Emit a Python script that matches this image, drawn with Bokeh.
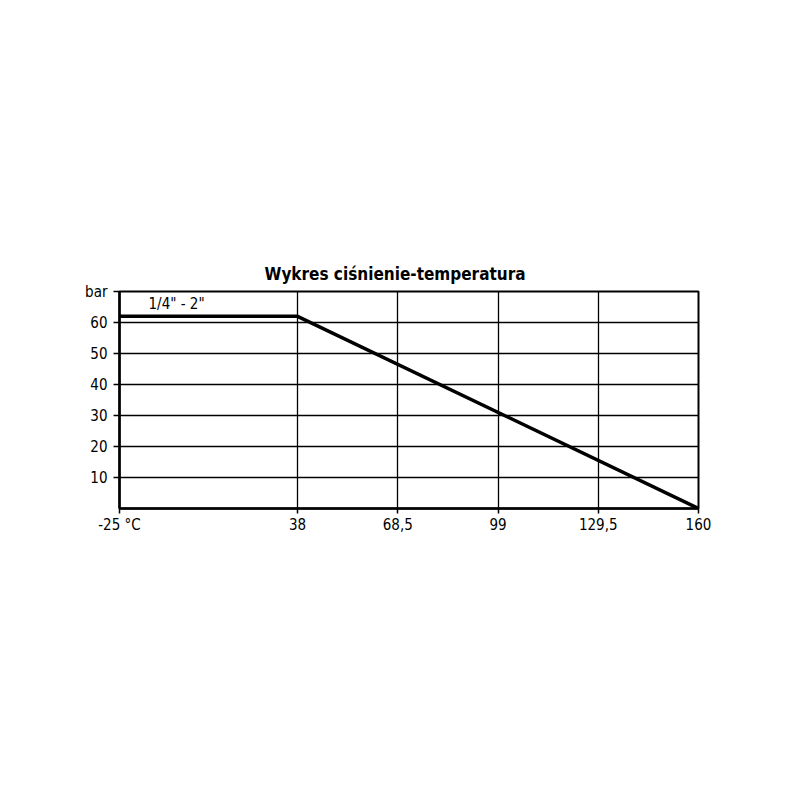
from bokeh.plotting import figure
from bokeh.models import FixedTicker, Label, Title
from bokeh.embed import file_html
from bokeh.resources import INLINE

# ---- data ----
temps = [-25, 38, 160]          # °C
pressures = [62, 62, 0]         # bar
x_tick_values = [-25, 38, 68.5, 99, 129.5, 160]
x_tick_labels = ["-25 °C", "38", "68,5", "99", "129,5", "160"]
y_tick_values = [10, 20, 30, 40, 50, 60, 70]
y_tick_labels = ["10", "20", "30", "40", "50", "60", "bar"]
y_grid_values = [10, 20, 30, 40, 50, 60]
series_label = '1/4" - 2"'
title_text = "Wykres ciśnienie-temperatura"
y_max = 70

# The original axis compresses the part below the knee temperature (38 °C)
KNEE = 38
COMPRESS = 0.86


def xpos(t):
    if t >= KNEE:
        return t
    return round(KNEE - (KNEE - t) * COMPRESS, 4)


FONT = "DejaVu Sans Condensed"

xs = [xpos(t) for t in temps]
xt = [xpos(t) for t in x_tick_values]

p = figure(
    frame_width=579, frame_height=217,
    min_border_left=119, min_border_top=291,
    min_border_right=86, min_border_bottom=276,
    x_range=(xt[0], xt[-1]), y_range=(0, y_max),
    output_backend="svg", toolbar_location=None,
    background_fill_color="white", border_fill_color="white",
)

t = Title(text=title_text, align="left", offset=145,
          text_font=FONT, text_font_size="17px", text_font_style="bold",
          text_color="black", standoff=15)
p.add_layout(t, "above")

p.outline_line_color = "black"
p.outline_line_width = 2

# axes
p.xaxis.ticker = FixedTicker(ticks=xt)
p.xaxis.major_label_overrides = {v: lab for v, lab in zip(xt, x_tick_labels)}
p.yaxis.ticker = FixedTicker(ticks=y_tick_values)
p.yaxis.major_label_overrides = {v: lab for v, lab in zip(y_tick_values, y_tick_labels)}

for ax in (p.xaxis, p.yaxis):
    ax.axis_line_color = "black"
    ax.axis_line_width = 2.5
    ax.major_tick_line_color = "black"
    ax.major_tick_line_width = 1.5
    ax.major_tick_in = 0
    ax.minor_tick_line_color = None
    ax.major_label_text_font = FONT
    ax.major_label_text_font_size = "15px"
    ax.major_label_text_color = "black"

p.xaxis.major_tick_out = 5
p.xaxis.major_label_standoff = 2
p.yaxis.major_tick_out = 6
p.yaxis.major_label_standoff = 6

# grid
p.xgrid.ticker = FixedTicker(ticks=xt)
p.ygrid.ticker = FixedTicker(ticks=y_grid_values)
for g in (p.xgrid, p.ygrid):
    g.grid_line_color = "black"
    g.grid_line_width = 1.3
    g.grid_line_alpha = 1.0

# series
p.line(xs, pressures, line_color="black", line_width=3.5)

p.add_layout(Label(x=xs[0], y=pressures[0], text=series_label,
                   x_offset=29, y_offset=3, text_font=FONT,
                   text_font_size="15px", text_color="black",
                   text_baseline="bottom"))

open("out.html", "w").write(file_html(p, INLINE))
